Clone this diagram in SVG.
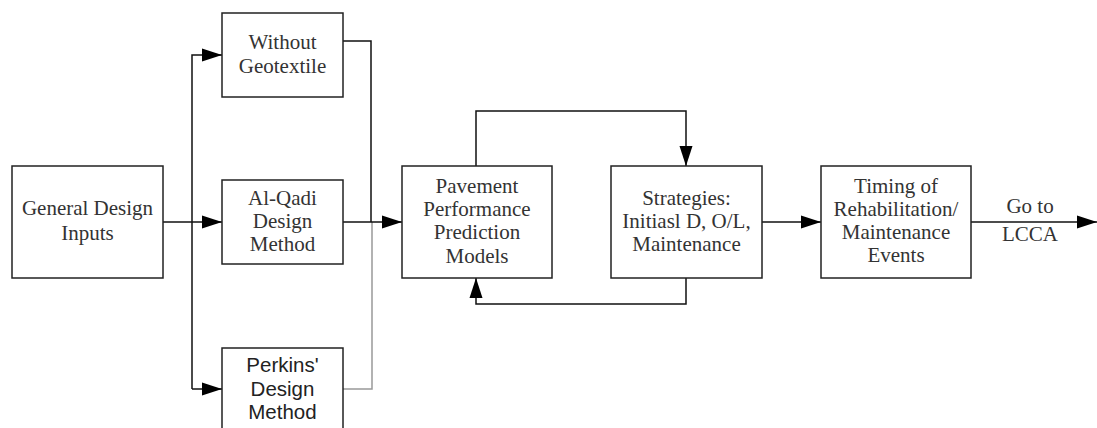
<svg xmlns="http://www.w3.org/2000/svg" width="1097" height="428" viewBox="0 0 1097 428">
<defs>
<marker id="ah" markerUnits="userSpaceOnUse" markerWidth="20" markerHeight="14" refX="20" refY="7" orient="auto">
<path d="M0,0.5 L20,7 L0,13.5 Z" fill="#000"/>
</marker>
<style>
.box{fill:#fff;stroke:#222;stroke-width:1.5}
.ln{fill:none;stroke:#111;stroke-width:1.5}
.gr{fill:none;stroke:#999;stroke-width:1.5}
.t{font-family:'Liberation Serif','DejaVu Serif','Times New Roman',serif;font-size:21px;fill:#333;text-anchor:middle}
.s{font-family:'Liberation Sans',Arial,sans-serif;font-size:20.5px;fill:#222;text-anchor:middle}
</style>
</defs>
<rect width="1097" height="428" fill="#fff"/>
<g id="connectors">
<path class="ln" d="M163,222 H222" marker-end="url(#ah)"/>
<path class="ln" d="M192,389 V55 H222" marker-end="url(#ah)"/>
<path class="ln" d="M192,389 H222" marker-end="url(#ah)"/>
<path class="ln" d="M343,41 H371 V222"/>
<path class="gr" d="M343,389 H372 V222"/>
<path class="ln" d="M343,222 H402" marker-end="url(#ah)"/>
<path class="ln" d="M476,166 V111 H686 V166" marker-end="url(#ah)"/>
<path class="ln" d="M686,278 V304 H476 V278" marker-end="url(#ah)"/>
<path class="ln" d="M762,222 H821" marker-end="url(#ah)"/>
<path class="ln" d="M971,222 H1097" marker-end="url(#ah)"/>
<text class="t" x="1030" y="213">Go to</text>
<text class="t" x="1030" y="241">LCCA</text>
</g>
<g id="general">
<rect class="box" x="12" y="166" width="151" height="112"/>
<text class="t" x="87.5" y="215">General Design</text>
<text class="t" x="87.5" y="240">Inputs</text>
</g>
<g id="without">
<rect class="box" x="222" y="13" width="121" height="84"/>
<text class="t" x="282.5" y="49">Without</text>
<text class="t" x="282.5" y="73">Geotextile</text>
</g>
<g id="alqadi">
<rect class="box" x="222" y="180" width="121" height="84"/>
<text class="t" x="282.5" y="205">Al-Qadi</text>
<text class="t" x="282.5" y="228">Design</text>
<text class="t" x="282.5" y="251">Method</text>
</g>
<g id="perkins">
<rect class="box" x="222" y="348" width="121" height="90"/>
<text class="s" x="282.5" y="372">Perkins'</text>
<text class="s" x="282.5" y="396">Design</text>
<text class="s" x="282.5" y="419">Method</text>
</g>
<g id="pavement">
<rect class="box" x="402" y="166" width="150" height="112"/>
<text class="t" x="477" y="193">Pavement</text>
<text class="t" x="477" y="216">Performance</text>
<text class="t" x="477" y="239">Prediction</text>
<text class="t" x="477" y="263">Models</text>
</g>
<g id="strategies">
<rect class="box" x="611" y="166" width="151" height="112"/>
<text class="t" x="686.5" y="205">Strategies:</text>
<text class="t" x="686.5" y="228">Initiasl D, O/L,</text>
<text class="t" x="686.5" y="251">Maintenance</text>
</g>
<g id="timing">
<rect class="box" x="821" y="166" width="150" height="112"/>
<text class="t" x="896" y="193">Timing of</text>
<text class="t" x="896" y="216">Rehabilitation/</text>
<text class="t" x="896" y="239">Maintenance</text>
<text class="t" x="896" y="262">Events</text>
</g>
</svg>
